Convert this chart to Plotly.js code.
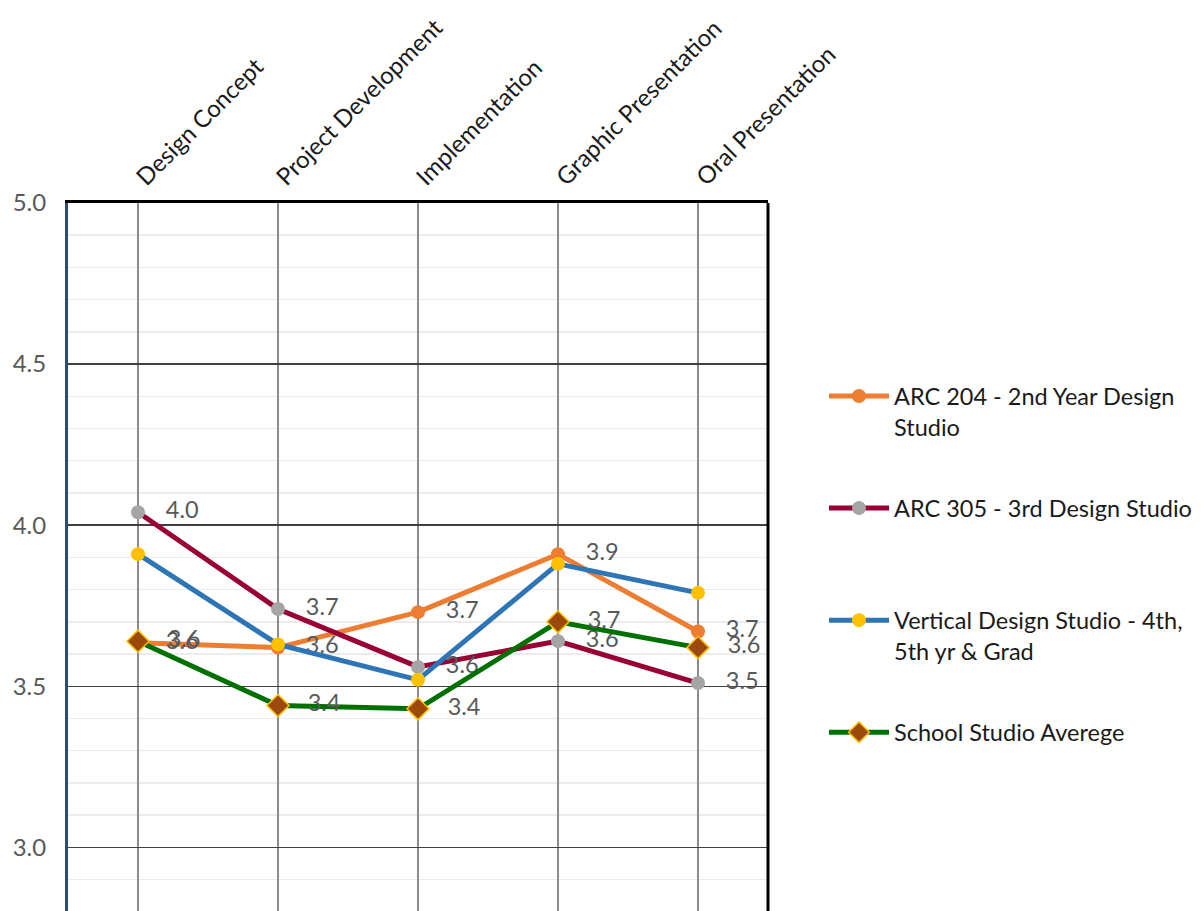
<!DOCTYPE html>
<html>
<head>
<meta charset="utf-8">
<script src="https://cdn.plot.ly/plotly-3.0.1.min.js"></script>
<style>
html, body { margin: 0; padding: 0; overflow: hidden; background: #fff; }
#chart { width: 1202px; height: 944px; }
</style>
</head>
<body>
<div id="chart"></div>
<script>
const categories = ["Design Concept", "Project Development", "Implementation", "Graphic Presentation", "Oral Presentation"];
const seriesNames = [
  "ARC 204 - 2nd Year Design<br>Studio",
  "ARC 305 - 3rd Design Studio<br>\u00a0",
  "Vertical Design Studio - 4th,<br>5th yr & Grad",
  "School Studio Averege"
];
const arc204 = [3.635, 3.62, 3.73, 3.91, 3.67];
const arc305 = [4.04, 3.74, 3.56, 3.64, 3.51];
const vertical = [3.91, 3.63, 3.52, 3.88, 3.79];
const schoolAvg = [3.64, 3.44, 3.43, 3.70, 3.62];
const yTickVals = [3.0, 3.5, 4.0, 4.5, 5.0];

const FONT = "Lato, 'Open Sans', sans-serif";
const labelTpl = "\u00a0\u00a0\u00a0%{y:.1f}";
const labelFont = { family: FONT, size: 23.5, color: "#595959" };

const traces = [
  {
    x: categories, y: arc204, name: seriesNames[0], legendgroup: "a",
    type: "scatter", mode: "lines+markers+text",
    line: { color: "#ED7D31", width: 5 },
    marker: { symbol: "circle", size: 14, color: "#ED7D31" },
    texttemplate: labelTpl, textposition: "middle right", textfont: labelFont,
    hoverinfo: "skip"
  },
  {
    x: categories, y: arc305, name: seriesNames[1], legendgroup: "b",
    type: "scatter", mode: "lines+markers+text",
    line: { color: "#990033", width: 5 },
    marker: { symbol: "circle", size: 14, color: "#A5A5A5" },
    texttemplate: labelTpl, textposition: "middle right", textfont: labelFont,
    hoverinfo: "skip"
  },
  {
    x: categories, y: vertical, name: seriesNames[2], legendgroup: "c",
    type: "scatter", mode: "lines+markers",
    line: { color: "#2E75B6", width: 5 },
    marker: { symbol: "circle", size: 14, color: "#FFC000" },
    hoverinfo: "skip"
  },
  {
    x: categories, y: schoolAvg, name: seriesNames[3], legendgroup: "d",
    type: "scatter", mode: "lines+markers+text",
    line: { color: "#007000", width: 5 },
    marker: { symbol: "diamond", size: 17, color: "#9C4A0C", line: { color: "#FFC000", width: 1.5 } },
    texttemplate: labelTpl, textposition: "middle right", textfont: labelFont,
    hoverinfo: "skip"
  }
];

const layout = {
  width: 1202, height: 944,
  margin: { l: 68, r: 434, t: 203, b: 0 },
  paper_bgcolor: "#ffffff", plot_bgcolor: "#ffffff",
  showlegend: true,
  legend: {
    x: 1.08, xanchor: "left", y: 0.769, yanchor: "top",
    font: { family: FONT, size: 23.5, color: "#1a1a1a" },
    traceorder: "grouped", tracegroupgap: 48, valign: "top",
    itemwidth: 60, bgcolor: "rgba(0,0,0,0)", borderwidth: 0
  },
  xaxis: {
    type: "category", side: "top", range: [-0.5, 4.5],
    tickangle: -45, ticks: "",
    tickfont: { family: FONT, size: 24, color: "#1a1a1a" },
    showgrid: true, gridcolor: "#8c8c8c", gridwidth: 1.5,
    showline: true, linecolor: "#000000", linewidth: 3,
    zeroline: false, fixedrange: true
  },
  yaxis: {
    range: [2.7, 5.0], tickvals: yTickVals, tickformat: ".1f", ticks: "",
    tickfont: { family: FONT, size: 24, color: "#595959" },
    ticklabelstandoff: 14,
    showgrid: true, gridcolor: "#404040", gridwidth: 1.5,
    minor: { dtick: 0.1, showgrid: true, gridcolor: "#ececec", gridwidth: 1.5 },
    showline: true, linecolor: "#2b4c74", linewidth: 3,
    zeroline: false, fixedrange: true
  },
  shapes: [
    { type: "line", xref: "paper", yref: "paper", x0: 1, x1: 1, y0: 0, y1: 1,
      line: { color: "#000000", width: 3 } }
  ]
};

Plotly.newPlot("chart", traces, layout, { staticPlot: true, displayModeBar: false });
</script>
</body>
</html>
